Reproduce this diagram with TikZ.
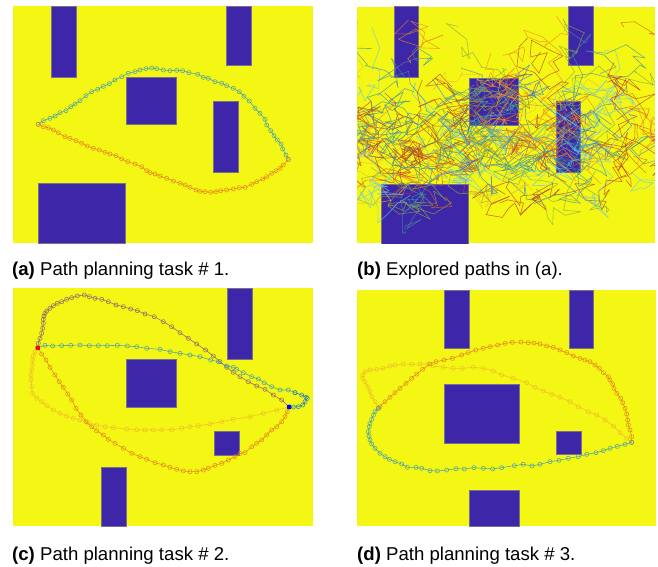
\documentclass[tikz,border=0pt]{standalone}
\usepackage{fontspec}
\setmainfont{Liberation Sans}
\usetikzlibrary{plotmarks}
\definecolor{yel}{RGB}{244,246,20}
\definecolor{obs}{RGB}{61,38,168}
\definecolor{obsedge}{RGB}{120,110,150}
\definecolor{tealp}{RGB}{70,160,165}
\definecolor{orap}{RGB}{226,135,28}
\definecolor{mauve}{RGB}{145,100,112}
\definecolor{faint}{RGB}{238,185,40}
\definecolor{bluep}{RGB}{20,110,200}
\definecolor{c1}{rgb}{0.93,0.55,0.15}
\definecolor{c2}{rgb}{0.74,0.25,0.12}
\definecolor{c3}{rgb}{0.42,0.80,0.88}
\definecolor{c4}{rgb}{0.25,0.58,0.62}
\definecolor{c5}{rgb}{0.92,0.76,0.20}
\definecolor{c6}{rgb}{0.20,0.50,0.88}
\definecolor{c7}{rgb}{0.55,0.68,0.25}
\definecolor{c8}{rgb}{0.85,0.40,0.10}
\tikzset{
  obstacle/.style={fill=obs, draw=obsedge, line width=0.4pt},
  field/.style={fill=yel},
  trail/.style={line width=0.6pt, mark=o, mark size=2.1pt, mark options={solid, line width=0.55pt}},
  captext/.style={font=\fontsize{18.6}{21}\selectfont, inner sep=0pt, anchor=base west},
  walk/.style={line width=0.6pt, opacity=0.72, line cap=round},
}
\begin{document}
\begin{tikzpicture}[x=1pt, y=-1pt]
\useasboundingbox (0,0) rectangle (658,567);
\fill[white] (0,0) rectangle (658,567);

% ---------------- panel (a) ----------------
\fill[field] (13,6) rectangle (313,243);
\draw[obstacle] (51,6) rectangle (76,77);
\draw[obstacle] (226,6) rectangle (251,65);
\draw[obstacle] (126,77) rectangle (176,124);
\draw[obstacle] (213,101) rectangle (238,172);
\draw[obstacle] (38,183) rectangle (125,243);
\begin{scope}[x=0.33333pt, y=-0.33333pt]
\draw[trail, tealp, opacity=0.9] plot coordinates {(115,373) (130,362) (150,355) (165,348) (180,338) (198,332) (212,320) (225,312) (240,302) (258,287) (275,275) (293,268) (310,259) (328,251) (345,240) (365,230) (385,220) (405,215) (420,210) (438,206) (455,204) (470,206) (490,210) (510,212) (530,211) (548,212) (567,218) (593,223) (610,232) (625,235) (645,245) (665,250) (680,257) (700,265) (718,275) (732,289) (748,303) (765,325) (780,340) (795,358) (800,375) (812,392) (822,407) (832,420) (843,432) (848,447) (858,465) (865,478)};
\draw[trail, orap, opacity=0.9] plot coordinates {(115,373) (130,380) (145,383) (160,390) (175,398) (195,410) (210,415) (228,422) (245,430) (262,438) (280,445) (298,450) (315,457) (330,462) (348,467) (365,477) (383,485) (405,492) (425,500) (440,512) (450,518) (465,522) (480,528) (500,535) (520,543) (540,550) (555,555) (570,562) (588,570) (600,574) (615,575) (632,577) (648,575) (662,572) (680,570) (700,567) (718,563) (735,562) (755,553) (770,545) (788,537) (800,530) (815,520) (828,512) (840,505) (850,495) (865,478)};
\end{scope}

% ---------------- panel (b) ----------------
\begin{scope}
\clip (357,7) rectangle (655,243);
\fill[field] (357,7) rectangle (655,243);
\draw[obstacle] (394,6) rectangle (418,77);
\draw[obstacle] (568,6) rectangle (593,65);
\draw[obstacle] (469,78) rectangle (518,125);
\draw[obstacle] (556,101) rectangle (580,172);
\draw[obstacle] (381,184) rectangle (468,244);
\pgfmathsetseed{27182}
\foreach \k in {1,...,125}{
  \pgfmathsetmacro{\sx}{357+298*rnd}
  \ifnum\k>100
    \pgfmathsetmacro{\sy}{50+35*rand}
  \else
    \pgfmathsetmacro{\sy}{145+62*rand}
  \fi
  \pgfmathrandominteger{\rc}{1}{12}
  \ifcase\rc\or\xdef\wc{c1}\or\xdef\wc{c1}\or\xdef\wc{c8}\or\xdef\wc{c2}\or\xdef\wc{c2}\or\xdef\wc{c3}\or\xdef\wc{c3}\or\xdef\wc{c4}\or\xdef\wc{c4}\or\xdef\wc{c5}\or\xdef\wc{c7}\or\xdef\wc{c6}\fi
  \xdef\px{\sx}\xdef\py{\sy}
  \foreach \s in {1,...,18}{
    \pgfmathsetmacro{\nx}{\px+21*rand}
    \pgfmathsetmacro{\ny}{\py+16*rand-0.05*(\py-145)}
    \draw[walk, draw=\wc] (\px,\py) -- (\nx,\ny);
    \xdef\px{\nx}\xdef\py{\ny}
  }
}
\end{scope}

% ---------------- panel (c) ----------------
\fill[field] (13,288) rectangle (313,526);
\draw[obstacle] (227,288) rectangle (252,359);
\draw[obstacle] (126,359) rectangle (176,407);
\draw[obstacle] (214,431) rectangle (239,455);
\draw[obstacle] (101,467) rectangle (126,526);
\begin{scope}[shift={(0pt,-280pt)}, x=0.33333pt, y=-0.33333pt]
\draw[trail, faint, opacity=0.8] plot coordinates {(113,203) (105,215) (100,228) (98,240) (97,255) (95,270) (93,285) (93,300) (95,320) (97,340) (110,355) (125,365) (140,377) (160,390) (180,400) (200,408) (220,415) (240,420) (265,428) (290,435) (315,440) (340,443) (380,447) (410,449) (435,450) (460,450) (485,450) (515,449) (545,445) (570,440) (595,437) (630,432) (665,425) (700,418) (750,410) (790,400) (830,390) (868,381)};
\draw[trail, mauve, opacity=0.9] plot coordinates {(113,203) (115,190) (120,175) (125,160) (128,145) (130,130) (130,118) (132,108) (135,100) (140,93) (150,85) (160,77) (172,70) (185,65) (200,58) (215,53) (232,48) (253,45) (268,50) (285,55) (305,58) (325,65) (348,75) (370,80) (392,87) (412,92) (435,102) (463,110) (490,125) (515,140) (540,158) (565,175) (590,192) (617,210) (640,228) (660,245) (680,262) (700,277) (720,290) (745,305) (770,318) (795,328) (820,345) (845,360) (868,381)};
\draw[trail, orap, opacity=0.9] plot coordinates {(113,203) (125,222) (138,240) (150,262) (165,285) (178,305) (190,322) (203,342) (215,360) (228,385) (243,405) (258,425) (275,440) (290,452) (310,465) (325,478) (345,490) (370,505) (395,520) (420,530) (440,538) (465,548) (490,555) (510,562) (530,568) (550,573) (570,575) (590,575) (610,570) (625,565) (645,556) (665,550) (685,540) (705,530) (720,520) (735,518) (755,500) (770,490) (785,480) (800,465) (815,450) (830,440) (845,425) (855,410) (862,395) (868,381)};
\draw[trail, tealp, opacity=0.9] plot coordinates {(113,203) (135,196) (158,198) (185,197) (212,196) (240,195) (268,197) (295,197) (322,197) (352,196) (382,198) (410,200) (440,205) (480,208) (510,215) (540,220) (570,225) (600,230) (632,240) (655,245) (680,258) (700,262) (710,268) (730,278) (755,290) (775,297) (793,308) (815,320) (840,330) (865,330) (885,338)};
\draw[trail, bluep!70!tealp, opacity=0.9] plot coordinates {(885,338) (905,345) (918,352) (922,355) (915,365) (908,375) (895,380) (880,381) (868,381)};
\fill[red] (113,203) ++(-2pt,-2pt) rectangle ++(4pt,4pt);
\fill[blue] (868,381) ++(-2pt,-2pt) rectangle ++(4pt,4pt);
\end{scope}

% ---------------- panel (d) ----------------
\fill[field] (357,290) rectangle (656,526);
\draw[obstacle] (444,290) rectangle (469,348);
\draw[obstacle] (569,290) rectangle (593,348);
\draw[obstacle] (444,384) rectangle (519,443);
\draw[obstacle] (556,431) rectangle (581,454);
\draw[obstacle] (469,490) rectangle (519,526);
\begin{scope}[shift={(330pt,-280pt)}, x=0.33333pt, y=-0.33333pt]
\draw[trail, faint, opacity=0.8] plot coordinates {(905,487) (890,475) (870,458) (850,438) (825,420) (800,405) (775,395) (745,380) (720,365) (690,352) (665,343) (640,333) (615,322) (590,308) (550,295) (515,285) (490,273) (460,265) (430,262) (397,265) (370,265) (340,262) (310,258) (295,252) (270,252) (245,253) (220,252) (195,255) (180,258) (160,265) (140,268) (120,270) (105,275) (98,285) (98,295) (105,305) (113,320) (120,335) (125,350) (135,365) (145,385)};
\draw[trail, orap, opacity=0.9] plot coordinates {(905,487) (905,470) (900,450) (895,435) (893,420) (890,402) (885,385) (878,368) (872,355) (860,340) (852,325) (848,312) (840,300) (835,290) (820,278) (808,265) (795,255) (780,245) (765,240) (750,235) (730,228) (710,218) (690,210) (670,202) (650,198) (630,192) (612,189) (595,188) (573,186) (547,187) (525,190) (503,195) (480,200) (460,205) (437,210) (415,218) (395,225) (367,235) (342,240) (318,245) (300,252) (278,268) (260,282) (245,295) (228,310) (210,325) (195,338) (180,352) (165,365) (150,380) (145,385)};
\draw[trail, tealp, opacity=0.9] plot coordinates {(145,385) (135,395) (130,405) (125,418) (120,430) (118,440) (115,455) (117,468) (120,480) (125,492) (135,505) (150,520) (165,530) (178,538) (195,545) (215,552) (232,562) (258,562) (275,565) (300,572) (322,573) (350,570) (378,566) (403,567) (432,563) (460,565) (488,567) (515,563) (553,557) (580,553) (606,558) (630,553) (660,545) (687,541) (715,535) (745,530) (770,523) (798,518) (820,512) (840,505) (862,499) (885,493) (905,487)};
\end{scope}

% ---------------- captions ----------------
\node[captext] (capa) at (12,275) {\textbf{(a)} Path planning task $\#$ 1.};
\node[captext] (capb) at (357,275) {\textbf{(b)} Explored paths in (a).};
\node[captext] (capc) at (12,560) {\textbf{(c)} Path planning task $\#$ 2.};
\node[captext] (capd) at (357,560) {\textbf{(d)} Path planning task $\#$ 3.};
\end{tikzpicture}
\end{document}
